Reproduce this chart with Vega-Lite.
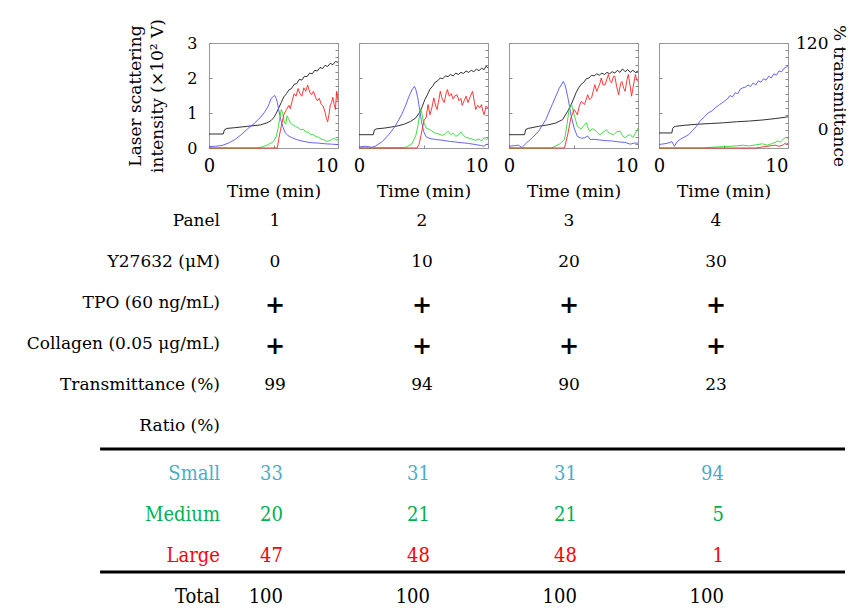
{
"$schema":"https://vega.github.io/schema/vega-lite/v6.json",
"padding":{"left":26,"top":18,"right":5,"bottom":3},
"bounds":"flush",
"spacing":178,
"config":{"font":"DejaVu Serif","view":{"stroke":"#999"},"axis":{"domain":false,"grid":false,"tickColor":"#888","labelColor":"#000","titleColor":"#000","labelFont":"DejaVu Serif","titleFont":"DejaVu Serif","titleFontWeight":"normal"},"text":{"font":"DejaVu Serif"}},
"datasets":{
"curves":[
{"p":1,"s":"k","t":0,"v":0.4},{"p":1,"s":"k","t":1.1,"v":0.4},{"p":1,"s":"k","t":1.2,"v":0.52},{"p":1,"s":"k","t":1.4,"v":0.56},{"p":1,"s":"k","t":2,"v":0.58},{"p":1,"s":"k","t":3,"v":0.62},{"p":1,"s":"k","t":4,"v":0.66},{"p":1,"s":"k","t":4.5,"v":0.72},{"p":1,"s":"k","t":4.8,"v":0.78},{"p":1,"s":"k","t":5,"v":0.86},{"p":1,"s":"k","t":5.2,"v":0.98},{"p":1,"s":"k","t":5.4,"v":1.14},{"p":1,"s":"k","t":5.6,"v":1.3},{"p":1,"s":"k","t":5.8,"v":1.46},{"p":1,"s":"k","t":6,"v":1.55},{"p":1,"s":"k","t":6.2,"v":1.66},{"p":1,"s":"k","t":6.4,"v":1.7},{"p":1,"s":"k","t":6.6,"v":1.82},{"p":1,"s":"k","t":6.8,"v":1.84},{"p":1,"s":"k","t":7,"v":1.96},{"p":1,"s":"k","t":7.2,"v":1.94},{"p":1,"s":"k","t":7.4,"v":2.05},{"p":1,"s":"k","t":7.6,"v":2.04},{"p":1,"s":"k","t":7.8,"v":2.14},{"p":1,"s":"k","t":8,"v":2.12},{"p":1,"s":"k","t":8.2,"v":2.22},{"p":1,"s":"k","t":8.4,"v":2.2},{"p":1,"s":"k","t":8.6,"v":2.3},{"p":1,"s":"k","t":8.8,"v":2.27},{"p":1,"s":"k","t":9,"v":2.36},{"p":1,"s":"k","t":9.2,"v":2.33},{"p":1,"s":"k","t":9.4,"v":2.42},{"p":1,"s":"k","t":9.6,"v":2.38},{"p":1,"s":"k","t":9.8,"v":2.47},{"p":1,"s":"k","t":10,"v":2.45},
{"p":1,"s":"b","t":0,"v":0.04},{"p":1,"s":"b","t":0.5,"v":0.05},{"p":1,"s":"b","t":1,"v":0.07},{"p":1,"s":"b","t":1.5,"v":0.14},{"p":1,"s":"b","t":2,"v":0.24},{"p":1,"s":"b","t":2.5,"v":0.38},{"p":1,"s":"b","t":3,"v":0.55},{"p":1,"s":"b","t":3.5,"v":0.7},{"p":1,"s":"b","t":4,"v":0.88},{"p":1,"s":"b","t":4.3,"v":1.02},{"p":1,"s":"b","t":4.6,"v":1.2},{"p":1,"s":"b","t":4.8,"v":1.4},{"p":1,"s":"b","t":5,"v":1.48},{"p":1,"s":"b","t":5.1,"v":1.5},{"p":1,"s":"b","t":5.2,"v":1.42},{"p":1,"s":"b","t":5.3,"v":1.3},{"p":1,"s":"b","t":5.4,"v":1.1},{"p":1,"s":"b","t":5.5,"v":0.92},{"p":1,"s":"b","t":5.6,"v":0.76},{"p":1,"s":"b","t":5.75,"v":0.58},{"p":1,"s":"b","t":5.9,"v":0.44},{"p":1,"s":"b","t":6.1,"v":0.36},{"p":1,"s":"b","t":6.4,"v":0.3},{"p":1,"s":"b","t":6.8,"v":0.24},{"p":1,"s":"b","t":7.2,"v":0.2},{"p":1,"s":"b","t":7.6,"v":0.17},{"p":1,"s":"b","t":8,"v":0.15},{"p":1,"s":"b","t":8.5,"v":0.14},{"p":1,"s":"b","t":9,"v":0.12},{"p":1,"s":"b","t":9.5,"v":0.11},{"p":1,"s":"b","t":10,"v":0.1},
{"p":1,"s":"g","t":0,"v":0},{"p":1,"s":"g","t":3.8,"v":0},{"p":1,"s":"g","t":4.2,"v":0.04},{"p":1,"s":"g","t":4.6,"v":0.1},{"p":1,"s":"g","t":5,"v":0.18},{"p":1,"s":"g","t":5.2,"v":0.32},{"p":1,"s":"g","t":5.35,"v":0.55},{"p":1,"s":"g","t":5.5,"v":0.88},{"p":1,"s":"g","t":5.6,"v":1.1},{"p":1,"s":"g","t":5.7,"v":1.02},{"p":1,"s":"g","t":5.85,"v":0.72},{"p":1,"s":"g","t":5.95,"v":0.68},{"p":1,"s":"g","t":6.05,"v":0.92},{"p":1,"s":"g","t":6.15,"v":0.85},{"p":1,"s":"g","t":6.3,"v":0.72},{"p":1,"s":"g","t":6.5,"v":0.66},{"p":1,"s":"g","t":6.7,"v":0.62},{"p":1,"s":"g","t":6.9,"v":0.58},{"p":1,"s":"g","t":7.1,"v":0.52},{"p":1,"s":"g","t":7.3,"v":0.54},{"p":1,"s":"g","t":7.5,"v":0.46},{"p":1,"s":"g","t":7.7,"v":0.45},{"p":1,"s":"g","t":7.9,"v":0.38},{"p":1,"s":"g","t":8.1,"v":0.38},{"p":1,"s":"g","t":8.3,"v":0.32},{"p":1,"s":"g","t":8.5,"v":0.31},{"p":1,"s":"g","t":8.7,"v":0.25},{"p":1,"s":"g","t":8.9,"v":0.24},{"p":1,"s":"g","t":9.1,"v":0.19},{"p":1,"s":"g","t":9.3,"v":0.2},{"p":1,"s":"g","t":9.5,"v":0.24},{"p":1,"s":"g","t":9.7,"v":0.28},{"p":1,"s":"g","t":9.85,"v":0.22},{"p":1,"s":"g","t":10,"v":0.25},
{"p":1,"s":"r","t":0,"v":0},{"p":1,"s":"r","t":5.3,"v":0},{"p":1,"s":"r","t":5.4,"v":0.25},{"p":1,"s":"r","t":5.6,"v":0.62},{"p":1,"s":"r","t":5.8,"v":0.95},{"p":1,"s":"r","t":6,"v":1.1},{"p":1,"s":"r","t":6.2,"v":1.22},{"p":1,"s":"r","t":6.3,"v":1.12},{"p":1,"s":"r","t":6.45,"v":1.35},{"p":1,"s":"r","t":6.6,"v":1.55},{"p":1,"s":"r","t":6.75,"v":1.48},{"p":1,"s":"r","t":6.9,"v":1.7},{"p":1,"s":"r","t":7.05,"v":1.55},{"p":1,"s":"r","t":7.2,"v":1.48},{"p":1,"s":"r","t":7.35,"v":1.72},{"p":1,"s":"r","t":7.5,"v":1.62},{"p":1,"s":"r","t":7.65,"v":1.8},{"p":1,"s":"r","t":7.8,"v":1.6},{"p":1,"s":"r","t":7.95,"v":1.52},{"p":1,"s":"r","t":8.1,"v":1.62},{"p":1,"s":"r","t":8.25,"v":1.45},{"p":1,"s":"r","t":8.4,"v":1.35},{"p":1,"s":"r","t":8.55,"v":1.42},{"p":1,"s":"r","t":8.7,"v":1.25},{"p":1,"s":"r","t":8.85,"v":1.2},{"p":1,"s":"r","t":9,"v":1.02},{"p":1,"s":"r","t":9.1,"v":0.85},{"p":1,"s":"r","t":9.2,"v":0.75},{"p":1,"s":"r","t":9.3,"v":0.95},{"p":1,"s":"r","t":9.4,"v":1.22},{"p":1,"s":"r","t":9.5,"v":1.3},{"p":1,"s":"r","t":9.6,"v":1.45},{"p":1,"s":"r","t":9.7,"v":1.25},{"p":1,"s":"r","t":9.8,"v":1.1},{"p":1,"s":"r","t":9.9,"v":1.62},{"p":1,"s":"r","t":10,"v":1.35},
{"p":2,"s":"k","t":0,"v":0.38},{"p":2,"s":"k","t":1.1,"v":0.38},{"p":2,"s":"k","t":1.2,"v":0.52},{"p":2,"s":"k","t":1.4,"v":0.55},{"p":2,"s":"k","t":2,"v":0.57},{"p":2,"s":"k","t":2.5,"v":0.6},{"p":2,"s":"k","t":3,"v":0.63},{"p":2,"s":"k","t":3.5,"v":0.68},{"p":2,"s":"k","t":4,"v":0.76},{"p":2,"s":"k","t":4.4,"v":0.86},{"p":2,"s":"k","t":4.7,"v":1.02},{"p":2,"s":"k","t":4.9,"v":1.18},{"p":2,"s":"k","t":5.1,"v":1.38},{"p":2,"s":"k","t":5.3,"v":1.52},{"p":2,"s":"k","t":5.5,"v":1.68},{"p":2,"s":"k","t":5.7,"v":1.76},{"p":2,"s":"k","t":5.9,"v":1.88},{"p":2,"s":"k","t":6.1,"v":1.92},{"p":2,"s":"k","t":6.3,"v":2},{"p":2,"s":"k","t":6.5,"v":1.98},{"p":2,"s":"k","t":6.7,"v":2.06},{"p":2,"s":"k","t":6.9,"v":2.04},{"p":2,"s":"k","t":7.1,"v":2.1},{"p":2,"s":"k","t":7.3,"v":2.06},{"p":2,"s":"k","t":7.5,"v":2.14},{"p":2,"s":"k","t":7.7,"v":2.1},{"p":2,"s":"k","t":7.9,"v":2.16},{"p":2,"s":"k","t":8.1,"v":2.13},{"p":2,"s":"k","t":8.3,"v":2.2},{"p":2,"s":"k","t":8.5,"v":2.16},{"p":2,"s":"k","t":8.7,"v":2.22},{"p":2,"s":"k","t":8.9,"v":2.18},{"p":2,"s":"k","t":9.1,"v":2.25},{"p":2,"s":"k","t":9.3,"v":2.21},{"p":2,"s":"k","t":9.5,"v":2.28},{"p":2,"s":"k","t":9.7,"v":2.24},{"p":2,"s":"k","t":9.85,"v":2.34},{"p":2,"s":"k","t":10,"v":2.28},
{"p":2,"s":"b","t":0,"v":0.03},{"p":2,"s":"b","t":0.5,"v":0.05},{"p":2,"s":"b","t":1,"v":0.02},{"p":2,"s":"b","t":1.25,"v":0.05},{"p":2,"s":"b","t":1.8,"v":0.18},{"p":2,"s":"b","t":2.3,"v":0.38},{"p":2,"s":"b","t":2.8,"v":0.62},{"p":2,"s":"b","t":3.3,"v":0.95},{"p":2,"s":"b","t":3.6,"v":1.2},{"p":2,"s":"b","t":3.85,"v":1.45},{"p":2,"s":"b","t":4.1,"v":1.66},{"p":2,"s":"b","t":4.3,"v":1.76},{"p":2,"s":"b","t":4.4,"v":1.68},{"p":2,"s":"b","t":4.55,"v":1.45},{"p":2,"s":"b","t":4.7,"v":1.1},{"p":2,"s":"b","t":4.85,"v":0.75},{"p":2,"s":"b","t":5,"v":0.48},{"p":2,"s":"b","t":5.2,"v":0.32},{"p":2,"s":"b","t":5.5,"v":0.27},{"p":2,"s":"b","t":6,"v":0.24},{"p":2,"s":"b","t":6.5,"v":0.22},{"p":2,"s":"b","t":7,"v":0.19},{"p":2,"s":"b","t":7.5,"v":0.17},{"p":2,"s":"b","t":8,"v":0.15},{"p":2,"s":"b","t":8.5,"v":0.13},{"p":2,"s":"b","t":9,"v":0.1},{"p":2,"s":"b","t":9.5,"v":0.07},{"p":2,"s":"b","t":9.7,"v":0.05},{"p":2,"s":"b","t":9.85,"v":0.1},{"p":2,"s":"b","t":10,"v":0.11},
{"p":2,"s":"g","t":0,"v":0},{"p":2,"s":"g","t":3.6,"v":0.01},{"p":2,"s":"g","t":4.1,"v":0.12},{"p":2,"s":"g","t":4.4,"v":0.35},{"p":2,"s":"g","t":4.55,"v":0.6},{"p":2,"s":"g","t":4.7,"v":0.95},{"p":2,"s":"g","t":4.8,"v":1.1},{"p":2,"s":"g","t":4.9,"v":0.95},{"p":2,"s":"g","t":5,"v":0.76},{"p":2,"s":"g","t":5.2,"v":0.57},{"p":2,"s":"g","t":5.4,"v":0.54},{"p":2,"s":"g","t":5.6,"v":0.5},{"p":2,"s":"g","t":5.8,"v":0.44},{"p":2,"s":"g","t":6,"v":0.42},{"p":2,"s":"g","t":6.2,"v":0.4},{"p":2,"s":"g","t":6.45,"v":0.36},{"p":2,"s":"g","t":6.7,"v":0.4},{"p":2,"s":"g","t":6.9,"v":0.48},{"p":2,"s":"g","t":7.1,"v":0.38},{"p":2,"s":"g","t":7.3,"v":0.42},{"p":2,"s":"g","t":7.5,"v":0.33},{"p":2,"s":"g","t":7.7,"v":0.38},{"p":2,"s":"g","t":7.9,"v":0.46},{"p":2,"s":"g","t":8.1,"v":0.36},{"p":2,"s":"g","t":8.3,"v":0.3},{"p":2,"s":"g","t":8.55,"v":0.28},{"p":2,"s":"g","t":8.8,"v":0.25},{"p":2,"s":"g","t":9.05,"v":0.22},{"p":2,"s":"g","t":9.3,"v":0.26},{"p":2,"s":"g","t":9.5,"v":0.2},{"p":2,"s":"g","t":9.7,"v":0.3},{"p":2,"s":"g","t":9.85,"v":0.24},{"p":2,"s":"g","t":10,"v":0.27},
{"p":2,"s":"r","t":0,"v":0},{"p":2,"s":"r","t":4.5,"v":0},{"p":2,"s":"r","t":4.65,"v":0.1},{"p":2,"s":"r","t":4.8,"v":0.35},{"p":2,"s":"r","t":4.95,"v":0.62},{"p":2,"s":"r","t":5.05,"v":0.8},{"p":2,"s":"r","t":5.2,"v":0.86},{"p":2,"s":"r","t":5.35,"v":1.24},{"p":2,"s":"r","t":5.5,"v":0.95},{"p":2,"s":"r","t":5.65,"v":1.15},{"p":2,"s":"r","t":5.8,"v":1.43},{"p":2,"s":"r","t":5.95,"v":1.2},{"p":2,"s":"r","t":6.05,"v":1.1},{"p":2,"s":"r","t":6.2,"v":1.4},{"p":2,"s":"r","t":6.3,"v":1.62},{"p":2,"s":"r","t":6.45,"v":1.4},{"p":2,"s":"r","t":6.6,"v":1.3},{"p":2,"s":"r","t":6.75,"v":1.55},{"p":2,"s":"r","t":6.85,"v":1.67},{"p":2,"s":"r","t":7,"v":1.48},{"p":2,"s":"r","t":7.15,"v":1.55},{"p":2,"s":"r","t":7.3,"v":1.4},{"p":2,"s":"r","t":7.45,"v":1.5},{"p":2,"s":"r","t":7.6,"v":1.52},{"p":2,"s":"r","t":7.75,"v":1.35},{"p":2,"s":"r","t":7.9,"v":1.42},{"p":2,"s":"r","t":8,"v":1.22},{"p":2,"s":"r","t":8.15,"v":1.35},{"p":2,"s":"r","t":8.3,"v":1.48},{"p":2,"s":"r","t":8.45,"v":1.3},{"p":2,"s":"r","t":8.6,"v":1.45},{"p":2,"s":"r","t":8.8,"v":1.62},{"p":2,"s":"r","t":8.95,"v":1.3},{"p":2,"s":"r","t":9.05,"v":1.1},{"p":2,"s":"r","t":9.2,"v":1.22},{"p":2,"s":"r","t":9.35,"v":1.15},{"p":2,"s":"r","t":9.5,"v":1.24},{"p":2,"s":"r","t":9.6,"v":1.05},{"p":2,"s":"r","t":9.7,"v":0.95},{"p":2,"s":"r","t":9.85,"v":1.2},{"p":2,"s":"r","t":10,"v":1.15},
{"p":3,"s":"k","t":0,"v":0.38},{"p":3,"s":"k","t":1.2,"v":0.38},{"p":3,"s":"k","t":1.3,"v":0.53},{"p":3,"s":"k","t":1.5,"v":0.56},{"p":3,"s":"k","t":2.3,"v":0.62},{"p":3,"s":"k","t":3,"v":0.66},{"p":3,"s":"k","t":3.6,"v":0.71},{"p":3,"s":"k","t":4.15,"v":0.81},{"p":3,"s":"k","t":4.55,"v":1.05},{"p":3,"s":"k","t":4.8,"v":1.22},{"p":3,"s":"k","t":5,"v":1.4},{"p":3,"s":"k","t":5.2,"v":1.58},{"p":3,"s":"k","t":5.4,"v":1.72},{"p":3,"s":"k","t":5.6,"v":1.82},{"p":3,"s":"k","t":5.8,"v":1.88},{"p":3,"s":"k","t":6,"v":1.98},{"p":3,"s":"k","t":6.2,"v":2},{"p":3,"s":"k","t":6.4,"v":2.08},{"p":3,"s":"k","t":6.6,"v":2.06},{"p":3,"s":"k","t":6.8,"v":2.12},{"p":3,"s":"k","t":7,"v":2.08},{"p":3,"s":"k","t":7.2,"v":2.14},{"p":3,"s":"k","t":7.4,"v":2.1},{"p":3,"s":"k","t":7.6,"v":2.16},{"p":3,"s":"k","t":7.8,"v":2.12},{"p":3,"s":"k","t":8,"v":2.18},{"p":3,"s":"k","t":8.2,"v":2.14},{"p":3,"s":"k","t":8.4,"v":2.22},{"p":3,"s":"k","t":8.6,"v":2.16},{"p":3,"s":"k","t":8.8,"v":2.26},{"p":3,"s":"k","t":9,"v":2.18},{"p":3,"s":"k","t":9.2,"v":2.24},{"p":3,"s":"k","t":9.4,"v":2.16},{"p":3,"s":"k","t":9.6,"v":2.22},{"p":3,"s":"k","t":9.8,"v":2.16},{"p":3,"s":"k","t":10,"v":2.2},
{"p":3,"s":"b","t":0,"v":0.05},{"p":3,"s":"b","t":0.5,"v":0.07},{"p":3,"s":"b","t":0.75,"v":0.08},{"p":3,"s":"b","t":1,"v":0.01},{"p":3,"s":"b","t":1.25,"v":0.11},{"p":3,"s":"b","t":1.8,"v":0.29},{"p":3,"s":"b","t":2.3,"v":0.48},{"p":3,"s":"b","t":2.85,"v":0.81},{"p":3,"s":"b","t":3.35,"v":1.24},{"p":3,"s":"b","t":3.9,"v":1.71},{"p":3,"s":"b","t":4.2,"v":1.9},{"p":3,"s":"b","t":4.35,"v":1.8},{"p":3,"s":"b","t":4.6,"v":1.38},{"p":3,"s":"b","t":4.8,"v":0.95},{"p":3,"s":"b","t":5.05,"v":0.57},{"p":3,"s":"b","t":5.3,"v":0.33},{"p":3,"s":"b","t":5.6,"v":0.28},{"p":3,"s":"b","t":5.85,"v":0.29},{"p":3,"s":"b","t":6.1,"v":0.34},{"p":3,"s":"b","t":6.3,"v":0.24},{"p":3,"s":"b","t":6.6,"v":0.25},{"p":3,"s":"b","t":7,"v":0.23},{"p":3,"s":"b","t":7.5,"v":0.21},{"p":3,"s":"b","t":8,"v":0.2},{"p":3,"s":"b","t":8.6,"v":0.17},{"p":3,"s":"b","t":9,"v":0.16},{"p":3,"s":"b","t":9.4,"v":0.11},{"p":3,"s":"b","t":9.7,"v":0.14},{"p":3,"s":"b","t":10,"v":0.14},
{"p":3,"s":"g","t":0,"v":0},{"p":3,"s":"g","t":3.3,"v":0},{"p":3,"s":"g","t":3.9,"v":0.11},{"p":3,"s":"g","t":4.3,"v":0.24},{"p":3,"s":"g","t":4.45,"v":0.55},{"p":3,"s":"g","t":4.6,"v":0.95},{"p":3,"s":"g","t":4.7,"v":1.22},{"p":3,"s":"g","t":4.85,"v":1.24},{"p":3,"s":"g","t":5.05,"v":0.95},{"p":3,"s":"g","t":5.3,"v":0.62},{"p":3,"s":"g","t":5.45,"v":0.58},{"p":3,"s":"g","t":5.6,"v":0.55},{"p":3,"s":"g","t":5.8,"v":0.64},{"p":3,"s":"g","t":6,"v":0.72},{"p":3,"s":"g","t":6.1,"v":0.6},{"p":3,"s":"g","t":6.25,"v":0.48},{"p":3,"s":"g","t":6.45,"v":0.55},{"p":3,"s":"g","t":6.65,"v":0.52},{"p":3,"s":"g","t":6.85,"v":0.44},{"p":3,"s":"g","t":7.05,"v":0.38},{"p":3,"s":"g","t":7.3,"v":0.45},{"p":3,"s":"g","t":7.55,"v":0.52},{"p":3,"s":"g","t":7.8,"v":0.42},{"p":3,"s":"g","t":8.1,"v":0.38},{"p":3,"s":"g","t":8.35,"v":0.46},{"p":3,"s":"g","t":8.6,"v":0.48},{"p":3,"s":"g","t":8.8,"v":0.35},{"p":3,"s":"g","t":9,"v":0.29},{"p":3,"s":"g","t":9.2,"v":0.36},{"p":3,"s":"g","t":9.4,"v":0.38},{"p":3,"s":"g","t":9.6,"v":0.3},{"p":3,"s":"g","t":9.8,"v":0.43},{"p":3,"s":"g","t":10,"v":0.57},
{"p":3,"s":"r","t":0,"v":0},{"p":3,"s":"r","t":4.3,"v":0},{"p":3,"s":"r","t":4.55,"v":0.38},{"p":3,"s":"r","t":4.8,"v":0.86},{"p":3,"s":"r","t":5.05,"v":1.1},{"p":3,"s":"r","t":5.3,"v":0.95},{"p":3,"s":"r","t":5.45,"v":1.2},{"p":3,"s":"r","t":5.6,"v":1.33},{"p":3,"s":"r","t":5.85,"v":1.24},{"p":3,"s":"r","t":6.1,"v":1.52},{"p":3,"s":"r","t":6.25,"v":1.38},{"p":3,"s":"r","t":6.4,"v":1.43},{"p":3,"s":"r","t":6.55,"v":1.65},{"p":3,"s":"r","t":6.65,"v":1.81},{"p":3,"s":"r","t":6.8,"v":1.62},{"p":3,"s":"r","t":6.9,"v":1.71},{"p":3,"s":"r","t":7.05,"v":1.85},{"p":3,"s":"r","t":7.15,"v":2},{"p":3,"s":"r","t":7.3,"v":1.8},{"p":3,"s":"r","t":7.45,"v":1.81},{"p":3,"s":"r","t":7.6,"v":1.98},{"p":3,"s":"r","t":7.7,"v":2.1},{"p":3,"s":"r","t":7.85,"v":1.9},{"p":3,"s":"r","t":7.95,"v":1.86},{"p":3,"s":"r","t":8.1,"v":2.05},{"p":3,"s":"r","t":8.2,"v":2.05},{"p":3,"s":"r","t":8.35,"v":1.75},{"p":3,"s":"r","t":8.5,"v":1.52},{"p":3,"s":"r","t":8.65,"v":1.85},{"p":3,"s":"r","t":8.75,"v":1.9},{"p":3,"s":"r","t":8.9,"v":1.7},{"p":3,"s":"r","t":9,"v":1.62},{"p":3,"s":"r","t":9.15,"v":1.95},{"p":3,"s":"r","t":9.25,"v":2.1},{"p":3,"s":"r","t":9.4,"v":1.75},{"p":3,"s":"r","t":9.5,"v":1.48},{"p":3,"s":"r","t":9.65,"v":1.8},{"p":3,"s":"r","t":9.8,"v":2.1},{"p":3,"s":"r","t":9.9,"v":1.95},{"p":3,"s":"r","t":10,"v":1.9},
{"p":4,"s":"k","t":0,"v":0.43},{"p":4,"s":"k","t":1,"v":0.43},{"p":4,"s":"k","t":1.05,"v":0.55},{"p":4,"s":"k","t":1.15,"v":0.6},{"p":4,"s":"k","t":1.3,"v":0.62},{"p":4,"s":"k","t":2,"v":0.65},{"p":4,"s":"k","t":3,"v":0.68},{"p":4,"s":"k","t":4,"v":0.7},{"p":4,"s":"k","t":5,"v":0.72},{"p":4,"s":"k","t":6,"v":0.75},{"p":4,"s":"k","t":7,"v":0.77},{"p":4,"s":"k","t":8,"v":0.8},{"p":4,"s":"k","t":9,"v":0.84},{"p":4,"s":"k","t":9.8,"v":0.88},{"p":4,"s":"k","t":10,"v":0.89},
{"p":4,"s":"b","t":0,"v":0.1},{"p":4,"s":"b","t":0.4,"v":0.12},{"p":4,"s":"b","t":0.7,"v":0.14},{"p":4,"s":"b","t":1,"v":0.18},{"p":4,"s":"b","t":1.2,"v":0.05},{"p":4,"s":"b","t":1.4,"v":0.18},{"p":4,"s":"b","t":1.7,"v":0.26},{"p":4,"s":"b","t":2,"v":0.32},{"p":4,"s":"b","t":2.3,"v":0.38},{"p":4,"s":"b","t":2.6,"v":0.5},{"p":4,"s":"b","t":2.9,"v":0.62},{"p":4,"s":"b","t":3.2,"v":0.78},{"p":4,"s":"b","t":3.5,"v":0.88},{"p":4,"s":"b","t":3.8,"v":1},{"p":4,"s":"b","t":4.1,"v":1.06},{"p":4,"s":"b","t":4.4,"v":1.16},{"p":4,"s":"b","t":4.7,"v":1.24},{"p":4,"s":"b","t":5,"v":1.32},{"p":4,"s":"b","t":5.3,"v":1.4},{"p":4,"s":"b","t":5.5,"v":1.5},{"p":4,"s":"b","t":5.7,"v":1.46},{"p":4,"s":"b","t":5.9,"v":1.58},{"p":4,"s":"b","t":6.1,"v":1.55},{"p":4,"s":"b","t":6.3,"v":1.68},{"p":4,"s":"b","t":6.5,"v":1.72},{"p":4,"s":"b","t":6.7,"v":1.74},{"p":4,"s":"b","t":6.9,"v":1.8},{"p":4,"s":"b","t":7.1,"v":1.76},{"p":4,"s":"b","t":7.3,"v":1.86},{"p":4,"s":"b","t":7.5,"v":1.8},{"p":4,"s":"b","t":7.7,"v":1.92},{"p":4,"s":"b","t":7.9,"v":1.88},{"p":4,"s":"b","t":8.1,"v":1.98},{"p":4,"s":"b","t":8.3,"v":1.94},{"p":4,"s":"b","t":8.5,"v":2.05},{"p":4,"s":"b","t":8.7,"v":2},{"p":4,"s":"b","t":8.9,"v":2.12},{"p":4,"s":"b","t":9.1,"v":2.08},{"p":4,"s":"b","t":9.3,"v":2.2},{"p":4,"s":"b","t":9.5,"v":2.18},{"p":4,"s":"b","t":9.7,"v":2.28},{"p":4,"s":"b","t":9.9,"v":2.32},{"p":4,"s":"b","t":10,"v":2.35},
{"p":4,"s":"g","t":0,"v":0},{"p":4,"s":"g","t":3.5,"v":0},{"p":4,"s":"g","t":4,"v":0.02},{"p":4,"s":"g","t":5,"v":0.04},{"p":4,"s":"g","t":6,"v":0.06},{"p":4,"s":"g","t":6.5,"v":0.08},{"p":4,"s":"g","t":7,"v":0.06},{"p":4,"s":"g","t":7.5,"v":0.09},{"p":4,"s":"g","t":8,"v":0.12},{"p":4,"s":"g","t":8.4,"v":0.08},{"p":4,"s":"g","t":8.7,"v":0.12},{"p":4,"s":"g","t":9,"v":0.16},{"p":4,"s":"g","t":9.2,"v":0.2},{"p":4,"s":"g","t":9.4,"v":0.17},{"p":4,"s":"g","t":9.6,"v":0.24},{"p":4,"s":"g","t":9.8,"v":0.3},{"p":4,"s":"g","t":10,"v":0.28},
{"p":4,"s":"r","t":0,"v":0},{"p":4,"s":"r","t":7.5,"v":0},{"p":4,"s":"r","t":8.2,"v":0.04},{"p":4,"s":"r","t":8.6,"v":0.06},{"p":4,"s":"r","t":9,"v":0.08},{"p":4,"s":"r","t":9.3,"v":0.05},{"p":4,"s":"r","t":9.6,"v":0.08},{"p":4,"s":"r","t":9.8,"v":0.14},{"p":4,"s":"r","t":9.9,"v":0.1},{"p":4,"s":"r","t":10,"v":0.15}
],
"table":[
{"r":"Panel","g":"u","c":1,"val":"1"},{"r":"Panel","g":"u","c":2,"val":"2"},{"r":"Panel","g":"u","c":3,"val":"3"},{"r":"Panel","g":"u","c":4,"val":"4"},
{"r":"Y27632 (μM)","g":"u","c":1,"val":"0"},{"r":"Y27632 (μM)","g":"u","c":2,"val":"10"},{"r":"Y27632 (μM)","g":"u","c":3,"val":"20"},{"r":"Y27632 (μM)","g":"u","c":4,"val":"30"},
{"r":"TPO (60 ng/mL)","g":"p","c":1,"val":"+"},{"r":"TPO (60 ng/mL)","g":"p","c":2,"val":"+"},{"r":"TPO (60 ng/mL)","g":"p","c":3,"val":"+"},{"r":"TPO (60 ng/mL)","g":"p","c":4,"val":"+"},
{"r":"Collagen (0.05 μg/mL)","g":"p","c":1,"val":"+"},{"r":"Collagen (0.05 μg/mL)","g":"p","c":2,"val":"+"},{"r":"Collagen (0.05 μg/mL)","g":"p","c":3,"val":"+"},{"r":"Collagen (0.05 μg/mL)","g":"p","c":4,"val":"+"},
{"r":"Transmittance (%)","g":"u","c":1,"val":"99"},{"r":"Transmittance (%)","g":"u","c":2,"val":"94"},{"r":"Transmittance (%)","g":"u","c":3,"val":"90"},{"r":"Transmittance (%)","g":"u","c":4,"val":"23"},
{"r":"Ratio (%)","g":"h","c":1,"val":""},
{"r":"Small","g":"l","c":1,"val":"33"},{"r":"Small","g":"l","c":2,"val":"31"},{"r":"Small","g":"l","c":3,"val":"31"},{"r":"Small","g":"l","c":4,"val":"94"},
{"r":"Medium","g":"l","c":1,"val":"20"},{"r":"Medium","g":"l","c":2,"val":"21"},{"r":"Medium","g":"l","c":3,"val":"21"},{"r":"Medium","g":"l","c":4,"val":"5"},
{"r":"Large","g":"l","c":1,"val":"47"},{"r":"Large","g":"l","c":2,"val":"48"},{"r":"Large","g":"l","c":3,"val":"48"},{"r":"Large","g":"l","c":4,"val":"1"},
{"r":"Total","g":"l","c":1,"val":"100"},{"r":"Total","g":"l","c":2,"val":"100"},{"r":"Total","g":"l","c":3,"val":"100"},{"r":"Total","g":"l","c":4,"val":"100"}
]
},
"vconcat":[
{"hconcat":[
{"width":129,"height":105,"layer":[
{"data":{"name":"curves"},"transform":[{"filter":"datum.p==1"}],"mark":{"type":"line","strokeWidth":0.9},"encoding":{
"x":{"field":"t","type":"quantitative","scale":{"domain":[0,10],"nice":false},"axis":{"values":[0,0.625,1.25,1.875,2.5,3.125,3.75,4.375,5,5.625,6.25,6.875,7.5,8.125,8.75,9.375,10],"labelExpr":"datum.value==0||datum.value==10?datum.label:''","labelFontSize":18,"tickSize":-3,"labelPadding":12,"labelFlush":false,"labelOverlap":false,"labelAlign":{"condition":{"test":"datum.value==10","value":"right"},"value":"center"},"title":"Time (min)","titleFontSize":17,"titlePadding":8}},
"y":{"field":"v","type":"quantitative","scale":{"domain":[0,3],"nice":false},"axis":{"values":[0,1,2,3],"tickSize":-3,"labelPadding":15,"labelFontSize":16,"labelFlush":false,"title":["Laser scattering","intensity (×10² V)"],"titleFontSize":17,"titleLineHeight":22,"titlePadding":20}},
"color":{"field":"s","type":"nominal","scale":{"domain":["k","b","g","r"],"range":["#1a1a1a","#5252ff","#2ed82e","#ff2424"]},"legend":null}}},
{"data":{"values":[{"z":0}]},"mark":{"type":"point","opacity":0},"encoding":{"x":{"datum":0,"type":"quantitative"},"y":{"datum":0,"type":"quantitative","scale":{"domain":[-25,120],"nice":false},"axis":{"orient":"right","values":[-20,-10,0,10,20,30,40,50,60,70,80,90,100,110,120],"labels":false,"tickSize":-3,"title":null}}}}
],"resolve":{"scale":{"y":"independent"}}},
{"width":129,"height":105,"layer":[
{"data":{"name":"curves"},"transform":[{"filter":"datum.p==2"}],"mark":{"type":"line","strokeWidth":0.9},"encoding":{
"x":{"field":"t","type":"quantitative","scale":{"domain":[0,10],"nice":false},"axis":{"values":[0,0.625,1.25,1.875,2.5,3.125,3.75,4.375,5,5.625,6.25,6.875,7.5,8.125,8.75,9.375,10],"labelExpr":"datum.value==0||datum.value==10?datum.label:''","labelFontSize":18,"tickSize":-3,"labelPadding":12,"labelFlush":false,"labelOverlap":false,"labelAlign":{"condition":{"test":"datum.value==10","value":"right"},"value":"center"},"title":"Time (min)","titleFontSize":17,"titlePadding":8}},
"y":{"field":"v","type":"quantitative","scale":{"domain":[0,3],"nice":false},"axis":{"values":[0,1,2,3],"tickSize":-3,"labels":false,"title":null}},
"color":{"field":"s","type":"nominal","scale":{"domain":["k","b","g","r"],"range":["#1a1a1a","#5252ff","#2ed82e","#ff2424"]},"legend":null}}},
{"data":{"values":[{"z":0}]},"mark":{"type":"point","opacity":0},"encoding":{"x":{"datum":0,"type":"quantitative"},"y":{"datum":0,"type":"quantitative","scale":{"domain":[-25,120],"nice":false},"axis":{"orient":"right","values":[-20,-10,0,10,20,30,40,50,60,70,80,90,100,110,120],"labels":false,"tickSize":-3,"title":null}}}}
],"resolve":{"scale":{"y":"independent"}}},
{"width":129,"height":105,"layer":[
{"data":{"name":"curves"},"transform":[{"filter":"datum.p==3"}],"mark":{"type":"line","strokeWidth":0.9},"encoding":{
"x":{"field":"t","type":"quantitative","scale":{"domain":[0,10],"nice":false},"axis":{"values":[0,0.625,1.25,1.875,2.5,3.125,3.75,4.375,5,5.625,6.25,6.875,7.5,8.125,8.75,9.375,10],"labelExpr":"datum.value==0||datum.value==10?datum.label:''","labelFontSize":18,"tickSize":-3,"labelPadding":12,"labelFlush":false,"labelOverlap":false,"labelAlign":{"condition":{"test":"datum.value==10","value":"right"},"value":"center"},"title":"Time (min)","titleFontSize":17,"titlePadding":8}},
"y":{"field":"v","type":"quantitative","scale":{"domain":[0,3],"nice":false},"axis":{"values":[0,1,2,3],"tickSize":-3,"labels":false,"title":null}},
"color":{"field":"s","type":"nominal","scale":{"domain":["k","b","g","r"],"range":["#1a1a1a","#5252ff","#2ed82e","#ff2424"]},"legend":null}}},
{"data":{"values":[{"z":0}]},"mark":{"type":"point","opacity":0},"encoding":{"x":{"datum":0,"type":"quantitative"},"y":{"datum":0,"type":"quantitative","scale":{"domain":[-25,120],"nice":false},"axis":{"orient":"right","values":[-20,-10,0,10,20,30,40,50,60,70,80,90,100,110,120],"labels":false,"tickSize":-3,"title":null}}}}
],"resolve":{"scale":{"y":"independent"}}},
{"width":129,"height":105,"layer":[
{"data":{"name":"curves"},"transform":[{"filter":"datum.p==4"}],"mark":{"type":"line","strokeWidth":0.9},"encoding":{
"x":{"field":"t","type":"quantitative","scale":{"domain":[0,10],"nice":false},"axis":{"values":[0,0.625,1.25,1.875,2.5,3.125,3.75,4.375,5,5.625,6.25,6.875,7.5,8.125,8.75,9.375,10],"labelExpr":"datum.value==0||datum.value==10?datum.label:''","labelFontSize":18,"tickSize":-3,"labelPadding":12,"labelFlush":false,"labelOverlap":false,"labelAlign":{"condition":{"test":"datum.value==10","value":"right"},"value":"center"},"title":"Time (min)","titleFontSize":17,"titlePadding":8}},
"y":{"field":"v","type":"quantitative","scale":{"domain":[0,3],"nice":false},"axis":{"values":[0,1,2,3],"tickSize":-3,"labels":false,"title":null}},
"color":{"field":"s","type":"nominal","scale":{"domain":["k","b","g","r"],"range":["#1a1a1a","#5252ff","#2ed82e","#ff2424"]},"legend":null}}},
{"data":{"values":[{"z":0}]},"mark":{"type":"point","opacity":0},"encoding":{"x":{"datum":0,"type":"quantitative"},"y":{"datum":0,"type":"quantitative","scale":{"domain":[-25,120],"nice":false},"axis":{"orient":"right","values":[-20,-10,0,10,20,30,40,50,60,70,80,90,100,110,120],"labelExpr":"datum.value==0||datum.value==120?datum.label:''","labelAlign":"right","labelPadding":43,"labelFontSize":17,"labelFlush":false,"labelOverlap":false,"tickSize":-3,"title":"% transmittance","titleFontSize":17,"titlePadding":1}}}}
],"resolve":{"scale":{"y":"independent"}}}
],"spacing":21,"bounds":"flush"},
{"width":636,"height":369,"view":{"stroke":null},"data":{"name":"table"},
"layer":[
{"transform":[{"filter":"datum.c==1 && datum.g!='l'"}],"mark":{"type":"text","fontSize":17,"baseline":"middle","align":"right","dx":-55,"color":"#000"},"encoding":{"text":{"field":"r"},
"x":{"field":"c","type":"quantitative","scale":{"domain":[0.551,4.878],"nice":false,"zero":false},"axis":null},
"y":{"field":"r","type":"ordinal","scale":{"type":"point","padding":0,"domain":["Panel","Y27632 (μM)","TPO (60 ng/mL)","Collagen (0.05 μg/mL)","Transmittance (%)","Ratio (%)","Small","Medium","Large","Total"]},"axis":null}}},
{"transform":[{"filter":"datum.c==1 && datum.g=='l'"}],"mark":{"type":"text","fontSize":20,"font":"DejaVu Serif Condensed, DejaVu Serif","baseline":"middle","align":"right","dx":-55,"dy":7},"encoding":{"text":{"field":"r"},
"x":{"field":"c","type":"quantitative"},"y":{"field":"r","type":"ordinal"},
"color":{"condition":[{"test":"datum.r=='Small'","value":"#4bacc6"},{"test":"datum.r=='Medium'","value":"#00b050"},{"test":"datum.r=='Large'","value":"#ff0000"}],"value":"#000000"}}},
{"transform":[{"filter":"datum.g=='u'"}],"mark":{"type":"text","fontSize":17,"baseline":"middle","align":"center","color":"#000"},"encoding":{"text":{"field":"val"},"x":{"field":"c","type":"quantitative"},"y":{"field":"r","type":"ordinal"}}},
{"transform":[{"filter":"datum.g=='p'"}],"mark":{"type":"text","fontSize":24,"fontWeight":"bold","baseline":"middle","align":"center","dy":3,"color":"#000"},"encoding":{"text":{"field":"val"},"x":{"field":"c","type":"quantitative"},"y":{"field":"r","type":"ordinal"}}},
{"transform":[{"filter":"datum.g=='l'"}],"mark":{"type":"text","fontSize":20,"font":"DejaVu Serif Condensed, DejaVu Serif","baseline":"middle","align":"right","dx":8,"dy":7},"encoding":{"text":{"field":"val"},"x":{"field":"c","type":"quantitative"},"y":{"field":"r","type":"ordinal"},
"color":{"condition":[{"test":"datum.r=='Small'","value":"#4bacc6"},{"test":"datum.r=='Medium'","value":"#00b050"},{"test":"datum.r=='Large'","value":"#ff0000"}],"value":"#000000"}}},
{"transform":[{"filter":"datum.c==1 && (datum.r=='Small' || datum.r=='Total')"}],"mark":{"type":"rule","strokeWidth":3,"color":"#000","yOffset":-18},"encoding":{"y":{"field":"r","type":"ordinal"},"x":{"datum":-0.19,"type":"quantitative"},"x2":{"datum":4.878}}}
]}
]
}
